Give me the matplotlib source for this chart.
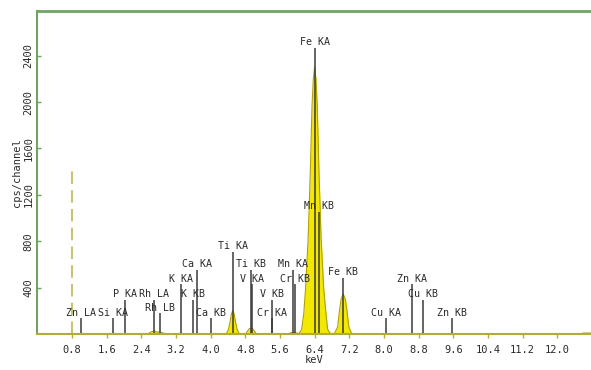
"""EDX spectrum with KLM line markers (keV vs cps/channel)
"""
import matplotlib
matplotlib.use("Agg")
import matplotlib.pyplot as plt
import numpy as np

# spectrum: energy (keV) and counts (cps/channel)
energy = [0.0, 2.55, 2.62, 2.69, 2.76, 2.83, 2.90, 3.00,
          3.25, 3.31, 3.37, 3.63, 3.69, 3.75,
          4.36, 4.41, 4.45, 4.48, 4.51, 4.54, 4.57, 4.61, 4.66,
          4.80, 4.85, 4.89, 4.93, 4.97, 5.01, 5.06,
          5.78, 5.86, 5.92, 5.98, 6.04,
          6.10, 6.15, 6.19, 6.25, 6.30, 6.34, 6.37, 6.40,
          6.43, 6.46, 6.50, 6.55, 6.61, 6.66, 6.70, 6.76,
          6.86, 6.93, 6.97, 7.01, 7.06, 7.11, 7.15, 7.19, 7.26,
          12.55, 12.60, 12.78]
counts = [0, 0, 18, 26, 18, 16, 8, 0,
          0, 8, 0, 0, 6, 0,
          0, 40, 110, 175, 200, 175, 110, 40, 0,
          0, 25, 45, 52, 45, 25, 0,
          0, 12, 15, 8, 5,
          40, 180, 390, 820, 1400, 1970, 2200, 2300,
          2200, 1970, 1400, 820, 390, 180, 40, 5,
          5, 60, 190, 300, 345, 300, 190, 60, 0,
          0, 8, 8]

# KLM markers: label, energy (keV), marker height (cps)
marker_labels = ["Zn LA", "Si KA", "P KA", "Rh LA", "Rh LB", "K KA", "K KB",
                 "Ca KA", "Ca KB", "Ti KA", "Ti KB", "V KA", "V KB", "Cr KA",
                 "Mn KA", "Cr KB", "Mn KB", "Fe KA", "Fe KB", "Cu KA",
                 "Zn KA", "Cu KB", "Zn KB"]
marker_energy = [1.012, 1.740, 2.013, 2.697, 2.834, 3.313, 3.590,
                 3.691, 4.012, 4.510, 4.932, 4.952, 5.427, 5.414,
                 5.898, 5.946, 6.490, 6.403, 7.057, 8.047,
                 8.638, 8.904, 9.571]
marker_height = [140, 140, 297, 297, 177, 427, 297,
                 556, 140, 711, 556, 427, 297, 140,
                 556, 427, 1056, 2470, 487, 140,
                 427, 297, 140]

cursor_energy = 0.8
cursor_height = 1420

xticks = [0.8, 1.6, 2.4, 3.2, 4.0, 4.8, 5.6, 6.4, 7.2, 8.0, 8.8, 9.6,
          10.4, 11.2, 12.0]
yticks = [400, 800, 1200, 1600, 2000, 2400]

plt.rcParams["font.family"] = ["DejaVu Sans Mono"]

green = "#6fa462"
olive = "#b4aa3c"
ink = "#2a2a2a"

fig = plt.figure(figsize=(5.91, 3.70), dpi=100)
ax = fig.add_axes([0.0633, 0.0973, 0.9367, 0.8730])

ax.fill_between(energy, counts, 0, color="#f3e800", lw=0)
ax.plot(energy, counts, color="#b0a000", lw=0.8)

ax.vlines(cursor_energy, 0, cursor_height, color="#c9c272", lw=1.5,
          linestyles=(0, (6, 3)))

ax.vlines(marker_energy, 0, marker_height, color="#3a3a3a", lw=1.1)
for lab, e, h in zip(marker_labels, marker_energy, marker_height):
    ax.annotate(lab, (e, h), xytext=(0, 1.5), textcoords="offset points",
                ha="center", va="baseline", fontsize=7.2, color=ink)

ax.set_xlim(0, 12.78)
ax.set_ylim(0, 2785)

ax.set_xticks(xticks)
ax.set_xticklabels([f"{t:.1f}" for t in xticks])
ax.set_yticks(yticks)
ax.set_yticklabels([str(t) for t in yticks], rotation=90, va="center")

ax.tick_params(axis="x", direction="out", length=3, width=1, color=olive,
               labelsize=7.5, labelcolor=ink, pad=5)
ax.tick_params(axis="y", direction="in", length=3, width=1, color=green,
               labelsize=7.5, labelcolor=ink, pad=3)

ax.set_xlabel("keV", fontsize=7.5, color=ink, labelpad=0)
ax.set_ylabel("cps/channel", fontsize=7.5, color=ink, labelpad=1)

ax.spines["right"].set_visible(False)
ax.spines["top"].set_color(green)
ax.spines["top"].set_linewidth(2)
ax.spines["left"].set_color(green)
ax.spines["left"].set_linewidth(1.5)
ax.spines["bottom"].set_color(olive)
ax.spines["bottom"].set_linewidth(1.5)

fig.savefig("out.png", dpi=100)
